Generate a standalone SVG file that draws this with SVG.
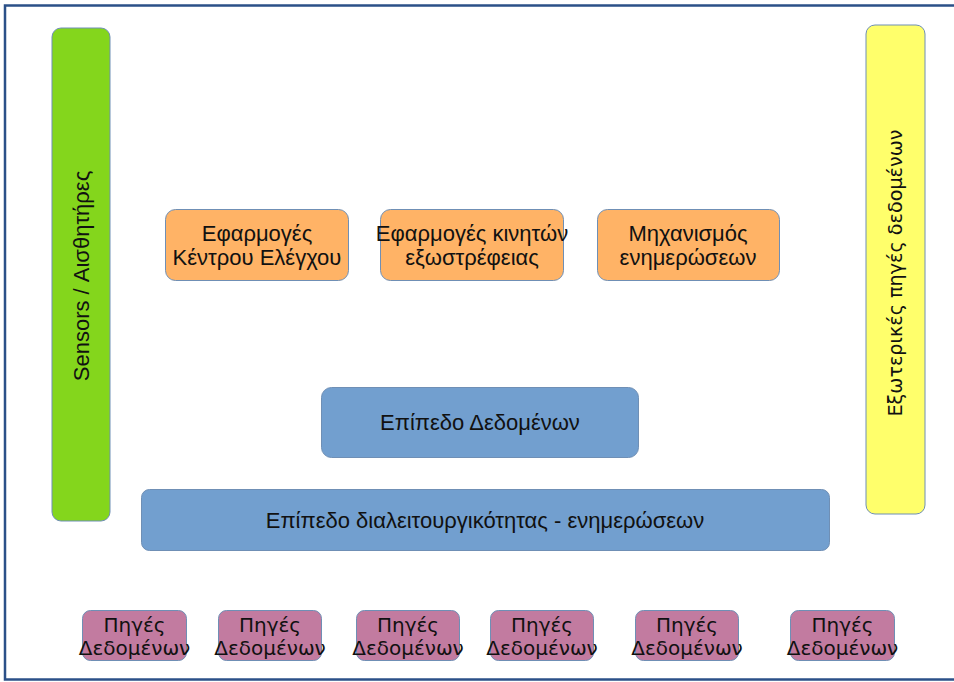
<svg xmlns="http://www.w3.org/2000/svg" width="954" height="682" viewBox="0 0 954 682">
<style>
.box{stroke:#6f8fb5;stroke-width:1}
.t{font-family:"Liberation Sans",Arial,sans-serif;fill:#111;text-anchor:middle;font-size:22px}
.d{font-family:"DejaVu Sans",Verdana,sans-serif;fill:#111;text-anchor:middle}
.p{font-size:20px}
</style>
<rect x="0" y="0" width="954" height="682" fill="#ffffff"/>
<rect x="5" y="5.5" width="960" height="674" fill="none" stroke="#2b5088" stroke-width="2.5"/>
<g id="sensors">
<rect class="box" x="52" y="28" width="58" height="493" rx="9" fill="#84d61c"/>
<text class="t" transform="translate(88.5,276) rotate(-90)">Sensors / Αισθητήρες</text>
</g>
<g id="external">
<rect class="box" x="866" y="25" width="59" height="489" rx="9" fill="#ffff6b" stroke="#9ab"/>
<text class="d" font-size="19.2" transform="translate(901.5,273) rotate(-90)">Εξωτερικές πηγές δεδομένων</text>
</g>
<g id="app-control">
<rect class="box" x="165.5" y="209.5" width="183" height="71" rx="10" fill="#ffb366"/>
<text class="t"><tspan x="257" y="241">Εφαρμογές</tspan><tspan x="257" y="264.5">Κέντρου Ελέγχου</tspan></text>
</g>
<g id="app-mobile">
<rect class="box" x="380.5" y="209.5" width="183" height="71" rx="10" fill="#ffb366"/>
<text class="t"><tspan x="472" y="241">Εφαρμογές κινητών</tspan><tspan x="472" y="264.5">εξωστρέφειας</tspan></text>
</g>
<g id="update-mech">
<rect class="box" x="597.5" y="209.5" width="182" height="71" rx="10" fill="#ffb366"/>
<text class="t"><tspan x="688" y="241">Μηχανισμός</tspan><tspan x="688" y="264.5">ενημερώσεων</tspan></text>
</g>
<g id="data-layer">
<rect class="box" x="321.5" y="387.5" width="317" height="70" rx="10" fill="#729fcf"/>
<text class="t" x="480" y="430">Επίπεδο Δεδομένων</text>
</g>
<g id="interop-layer">
<rect class="box" x="141.5" y="489.5" width="688" height="61" rx="8" fill="#729fcf"/>
<text class="t" x="485" y="528">Επίπεδο διαλειτουργικότητας - ενημερώσεων</text>
</g>
<g id="src1"><rect class="box" x="82.5" y="610.5" width="104" height="50" rx="8" fill="#c27ba0"/><text class="d p"><tspan x="134.5" y="631.5">Πηγές</tspan><tspan x="134.5" y="655">Δεδομένων</tspan></text></g>
<g id="src2"><rect class="box" x="218.5" y="610.5" width="103" height="50" rx="8" fill="#c27ba0"/><text class="d p"><tspan x="270" y="631.5">Πηγές</tspan><tspan x="270" y="655">Δεδομένων</tspan></text></g>
<g id="src3"><rect class="box" x="356.5" y="610.5" width="103" height="50" rx="8" fill="#c27ba0"/><text class="d p"><tspan x="408" y="631.5">Πηγές</tspan><tspan x="408" y="655">Δεδομένων</tspan></text></g>
<g id="src4"><rect class="box" x="490.5" y="610.5" width="103" height="50" rx="8" fill="#c27ba0"/><text class="d p"><tspan x="542" y="631.5">Πηγές</tspan><tspan x="542" y="655">Δεδομένων</tspan></text></g>
<g id="src5"><rect class="box" x="635.5" y="610.5" width="103" height="50" rx="8" fill="#c27ba0"/><text class="d p"><tspan x="687" y="631.5">Πηγές</tspan><tspan x="687" y="655">Δεδομένων</tspan></text></g>
<g id="src6"><rect class="box" x="790.5" y="610.5" width="104" height="50" rx="8" fill="#c27ba0"/><text class="d p"><tspan x="842.5" y="631.5">Πηγές</tspan><tspan x="842.5" y="655">Δεδομένων</tspan></text></g>
<g id="connectors"></g>
</svg>
